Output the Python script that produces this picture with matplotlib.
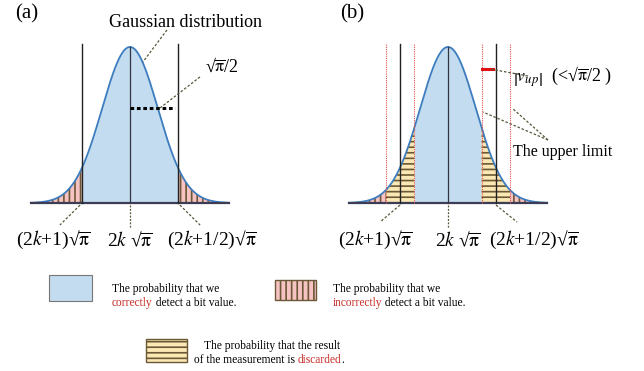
import numpy as np
import matplotlib
from matplotlib import pyplot as plt
from matplotlib.patches import Rectangle

matplotlib.rcParams['font.family'] = ['Liberation Serif', 'DejaVu Serif']
matplotlib.rcParams['mathtext.fontset'] = 'stix'
matplotlib.rcParams['hatch.linewidth'] = 1.2

# 参数 (x 以 sqrt(pi) 为单位, 中心为 2k*sqrt(pi))
sigma = 0.29
x_edge = 1.03          # 曲线两端
bit_line = 0.5         # 黑色判决线
v_up = 0.15            # upper limit
SQPI = r'√$\overline{\mathrm{\pi}}$'
tick_labels = ['(2$k$+1)' + SQPI, '2$k$ ' + SQPI, '(2$k$+1/2)' + SQPI]
legend_texts = [("The probability that we", "correctly", " detect a bit value."),
                ("The probability that we", "incorrectly", " detect a bit value."),
                ("The probability that the result", "of the measurement is ", "discarded", ".")]

c_blue = '#c3dcef'
c_curve = '#3d7dbf'
c_pink = '#f6c2c2'
c_yellow = '#fbe8b4'
c_hatch = '#6b5836'
c_lead = '#55553a'
c_red = '#c8302a'

fig = plt.figure(figsize=(6.44, 3.71), dpi=100)

x = np.linspace(-x_edge, x_edge, 600)
y = np.exp(-x ** 2 / (2 * sigma ** 2))


def panel(rect, xlim):
    ax = fig.add_axes(rect)
    ax.set_xlim(*xlim)
    ax.set_ylim(-0.301, 1.301)
    ax.axis('off')
    return ax


def leader(ax, p0, p1):
    ax.plot([p0[0], p1[0]], [p0[1], p1[1]], ls=(0, (2, 1.5)), lw=0.9, color=c_lead)


# ---------------- (a) ----------------
ax = panel([0, 121 / 371, 320 / 644, 250 / 371], (-1.354, 1.979))
inner = np.abs(x) <= bit_line
ax.fill_between(x, 0, y, where=inner, color=c_blue, lw=0)
ax.fill_between(x, 0, y, where=x <= -bit_line + 0.002, facecolor=c_pink, edgecolor=c_hatch, hatch='|||', lw=0)
ax.fill_between(x, 0, y, where=x >= bit_line - 0.002, facecolor=c_pink, edgecolor=c_hatch, hatch='|||', lw=0)
ax.plot(x, y, color=c_curve, lw=1.3)
ax.plot([-x_edge, x_edge], [0, 0], color='#3c3c55', lw=1.6)
for xv in (-bit_line, bit_line):
    ax.plot([xv, xv], [0, 1.02], color='#222222', lw=1.0)
ax.plot([0, 0], [0, 1.0], color='#333344', lw=0.9)
ax.plot([0, 0.47], [0.609, 0.609], color='black', lw=2.2, ls=(0, (1.2, 0.9)))

ax.text(0.573, 1.16, 'Gaussian distribution', ha='center', va='center', fontsize=13)
leader(ax, (0.385, 1.109), (0.135, 0.904))
ax.text(0.958, 0.872, SQPI + '/2', ha='center', va='center', fontsize=13)
leader(ax, (0.729, 0.808), (0.3125, 0.609))

leader(ax, (-0.52, -0.013), (-0.73, -0.141))
leader(ax, (0.52, -0.013), (0.73, -0.141))
ax.plot([0, 0], [-0.013, -0.16], ls=(0, (1.5, 1.2)), lw=0.9, color=c_lead)
for lx, lab in zip([-0.80, 0.0, 0.854], tick_labels):
    ax.text(lx, -0.237, lab, ha='center', va='center', fontsize=14)

# ---------------- (b) ----------------
bx = panel([320 / 644, 121 / 371, 324 / 644, 250 / 371], (-1.333, 2.042))
lo, hi = bit_line - v_up, bit_line + v_up
bx.fill_between(x, 0, y, where=np.abs(x) <= lo, color=c_blue, lw=0)
bx.fill_between(x, 0, y, where=(x >= -hi - 0.002) & (x <= -lo + 0.002),
                facecolor=c_yellow, edgecolor=c_hatch, hatch='---', lw=0)
bx.fill_between(x, 0, y, where=(x >= lo - 0.002) & (x <= hi + 0.002),
                facecolor=c_yellow, edgecolor=c_hatch, hatch='---', lw=0)
bx.fill_between(x, 0, y, where=x <= -hi + 0.002, facecolor=c_pink, edgecolor=c_hatch, hatch='|||', lw=0)
bx.fill_between(x, 0, y, where=x >= hi - 0.002, facecolor=c_pink, edgecolor=c_hatch, hatch='|||', lw=0)
bx.plot(x, y, color=c_curve, lw=1.3)
bx.plot([-x_edge, x_edge], [0, 0], color='#3c3c55', lw=1.6)
for xv in (-hi, -lo, lo, hi):
    bx.plot([xv, xv], [0, 1.02], color='#e05050', lw=0.8, ls=(0, (1, 1)))
for xv in (-bit_line, bit_line):
    bx.plot([xv, xv], [0, 1.02], color='#222222', lw=1.0)
bx.plot([0, 0], [0, 1.0], color='#333344', lw=0.9)
bx.plot([lo, lo + 0.12], [0.859, 0.859], color='#e01010', lw=2.2)

bx.text(0.677, 0.81, r'$\left|v_{up}\right|$  (<' + SQPI + '/2 )', ha='left', va='center', fontsize=13)
leader(bx, (0.833, 0.814), (0.4375, 0.859))
bx.text(0.677, 0.327, 'The upper limit', ha='left', va='center', fontsize=11.5)
leader(bx, (1.042, 0.404), (0.365, 0.583))
leader(bx, (1.042, 0.404), (0.667, 0.609))

leader(bx, (-0.5, -0.013), (-0.708, -0.122))
leader(bx, (0.5, -0.013), (0.72, -0.122))
bx.plot([0, 0], [-0.013, -0.16], ls=(0, (1.5, 1.2)), lw=0.9, color=c_lead)
for lx, lab in zip([-0.76, 0.1, 0.896], tick_labels):
    bx.text(lx, -0.237, lab, ha='center', va='center', fontsize=14)

fig.text(27 / 644, 1 - 14 / 371, '(a)', ha='center', va='center', fontsize=15)
fig.text(352 / 644, 1 - 14 / 371, '(b)', ha='center', va='center', fontsize=15)

# ---------------- 图例 ----------------
lg = fig.add_axes([0, 0, 1, 1], zorder=-1)
lg.set_xlim(0, 644)
lg.set_ylim(371, 0)
lg.axis('off')
lg.add_patch(Rectangle((49, 275), 43, 26, facecolor=c_blue, edgecolor='#777777', lw=0.8))
lg.add_patch(Rectangle((275, 280), 41, 20, facecolor=c_pink, edgecolor=c_hatch, hatch='|||', lw=1.0))
lg.add_patch(Rectangle((146, 339), 41, 23, facecolor=c_yellow, edgecolor=c_hatch, hatch='---', lw=1.0))


def legend_entry(x0, y0, parts, x1=None):
    lg.text(x0, y0, parts[0], ha='left', va='baseline', fontsize=8.3)
    t = lg.text(x0 if x1 is None else x1, y0 + 14, parts[1], ha='left', va='baseline', fontsize=8.3,
                color=c_red if x1 is None else 'black')
    for i, p in enumerate(parts[2:]):
        red = (x1 is not None and i == 0)
        t = lg.annotate(p, xy=(1, 0), xycoords=t, va='bottom', ha='left', fontsize=8.3,
                        color=c_red if red else 'black')


legend_entry(112, 292, legend_texts[0])
legend_entry(333, 292, legend_texts[1])
legend_entry(204, 349, legend_texts[2], x1=194)

fig.savefig('out.png', dpi=100)
